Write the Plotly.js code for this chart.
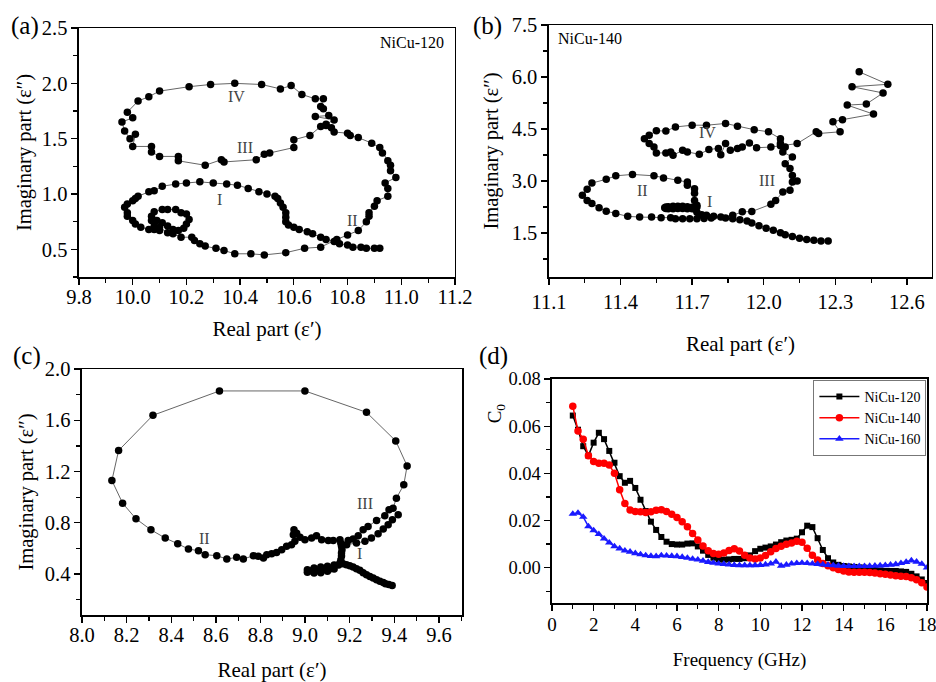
<!DOCTYPE html>
<html><head><meta charset="utf-8">
<script src="https://cdn.plot.ly/plotly-3.0.1.min.js"></script>
<style>html,body{margin:0;padding:0;background:#fff}#chart{width:936px;height:682px}</style>
</head><body><div id="chart"></div>
<script>
// ---------- Panel (a) NiCu-120 Cole-Cole ----------
const a_real = [10.92,10.90,10.87,10.85,10.82,10.80,10.77,10.75,10.72,10.70,10.67,10.65,10.62,10.60,10.58,10.57,10.57,10.57,10.56,10.55,10.54,10.53,
  10.50,10.47,10.43,10.39,10.35,10.30,10.25,10.20,10.16,10.11,10.08,10.06,10.02,10.01,10.00,9.98,9.97,9.98,9.98,10.00,10.01,10.03,10.06,10.08,10.10,
  10.08,10.07,10.07,10.08,10.11,10.13,10.16,10.18,10.20,10.21,10.20,10.19,10.17,10.15,10.13,10.11,10.09,10.10,10.13,10.15,10.18,10.22,10.23,10.25,10.27,10.31,10.34,10.38,10.44,10.49,10.57,10.64,10.70,10.76,10.80,10.84,
  10.87,10.88,10.88,10.90,10.91,10.95,10.95,10.94,10.98,10.96,10.96,10.95,10.93,10.92,10.89,10.84,10.81,10.80,10.75,10.74,10.72,10.70,
  10.66,10.60,10.60,10.51,10.49,10.46,10.34,10.33,10.27,10.17,10.17,10.10,10.07,10.07,10.00,10.01,9.99,9.97,9.96,10.00,9.98,
  10.02,10.06,10.10,10.21,10.29,10.38,10.48,10.55,10.59,10.63,10.68,10.71,10.70,10.71,10.73,10.68,10.75,10.72];
const a_imag = [0.51,0.51,0.51,0.52,0.52,0.54,0.55,0.57,0.59,0.61,0.64,0.66,0.68,0.70,0.72,0.75,0.79,0.83,0.88,0.92,0.96,0.98,
  1.00,1.02,1.05,1.08,1.09,1.10,1.11,1.10,1.09,1.07,1.03,1.02,0.98,0.96,0.94,0.91,0.88,0.83,0.80,0.76,0.73,0.70,0.68,0.68,0.67,
  0.71,0.76,0.80,0.84,0.86,0.86,0.86,0.83,0.82,0.77,0.73,0.69,0.67,0.68,0.71,0.74,0.76,0.70,0.65,0.64,0.61,0.61,0.58,0.55,0.53,0.51,0.49,0.46,0.46,0.45,0.47,0.51,0.52,0.59,0.63,0.67,
  0.75,0.80,0.83,0.89,0.94,0.98,1.05,1.10,1.15,1.21,1.26,1.30,1.37,1.42,1.46,1.51,1.53,1.55,1.56,1.60,1.62,1.61,
  1.53,1.49,1.42,1.37,1.36,1.31,1.29,1.31,1.26,1.30,1.34,1.34,1.38,1.43,1.43,1.54,1.50,1.57,1.65,1.69,1.74,
  1.84,1.88,1.93,1.97,1.99,2.00,1.99,1.95,1.98,1.90,1.86,1.86,1.79,1.77,1.71,1.70,1.67,1.63];

// ---------- Panel (b) NiCu-140 Cole-Cole ----------
const b_real = [12.27,12.24,12.21,12.18,12.15,12.12,12.09,12.07,12.04,12.01,11.98,11.95,11.93,11.90,11.87,11.84,11.82,11.79,11.76,11.74,
  11.72,11.71,11.70,11.68,11.66,11.64,11.62,11.60,11.59,11.585,11.59,11.60,11.62,11.64,11.66,11.68,11.70,11.72,11.72,
  11.71,11.71,11.71,11.68,11.68,11.64,11.58,11.54,11.45,11.38,11.34,11.28,11.26,11.24,11.26,11.28,11.31,11.34,11.38,11.43,11.48,11.53,11.57,11.61,11.63,11.66,11.69,11.72,11.75,11.78,
  11.87,11.91,11.95,12.03,12.05,12.08,12.11,12.12,12.14,12.12,12.11,12.09,12.12,12.08,12.09,12.07,12.07,
  12.02,11.96,11.89,11.84,11.76,11.70,11.63,11.59,11.55,11.52,11.50,11.52,11.54,11.55,11.59,11.61,11.62,11.66,11.68,11.73,11.77,11.81,11.82,11.84,11.86,11.89,11.91,11.94,11.97,12.03,12.07,12.14,
  12.22,12.23,12.32,12.29,12.33,12.46,12.35,12.43,12.50,12.37,12.52,12.40];
const b_imag = [1.27,1.27,1.29,1.31,1.35,1.40,1.45,1.51,1.58,1.64,1.71,1.79,1.85,1.88,1.91,1.93,1.96,1.98,2.01,2.03,
  2.10,2.20,2.24,2.26,2.27,2.27,2.27,2.26,2.25,2.23,2.21,2.20,2.20,2.21,2.21,2.20,2.20,2.25,2.30,
  2.44,2.65,2.78,2.88,2.97,3.02,3.09,3.15,3.19,3.15,3.05,2.94,2.76,2.59,2.44,2.35,2.23,2.13,2.06,1.98,1.96,1.96,1.94,1.94,1.91,1.91,1.91,1.91,1.92,1.93,
  2.01,2.11,2.12,2.33,2.44,2.68,2.73,2.97,3.00,3.16,3.36,3.50,3.69,3.84,3.98,4.08,4.22,
  4.42,4.48,4.58,4.66,4.61,4.61,4.56,4.44,4.45,4.32,4.22,4.08,3.98,3.81,3.81,3.84,3.74,3.89,3.84,3.77,3.91,3.94,3.76,4.08,3.89,3.94,3.98,4.10,3.96,3.98,4.02,4.08,
  4.42,4.37,4.42,4.71,4.77,4.93,5.19,5.22,5.54,5.72,5.79,6.15];

// ---------- Panel (c) NiCu-160 Cole-Cole ----------
const c_real = [9.39,9.375,9.36,9.35,9.335,9.32,9.305,9.29,9.275,9.26,9.245,9.23,9.215,9.20,9.185,9.17,9.156,
  9.13,9.10,9.07,9.04,9.01,9.01,9.04,9.07,9.10,9.13,9.11,9.08,9.05,9.02,9.15,
  9.16,9.163,9.163,9.165,9.163,9.16,9.156,
  9.126,9.104,9.074,9.051,9.029,8.999,8.977,8.962,8.950,8.947,8.954,8.939,
  8.917,8.895,8.872,8.850,8.828,8.813,8.790,8.768,8.723,8.693,8.649,8.604,8.552,8.522,8.477,8.429,8.373,8.309,8.242,8.182,8.134,8.164,8.318,8.616,8.999,9.275,9.406,9.457,9.442,9.409,
  9.394,9.376,9.357,9.320,9.282,9.260,9.238,9.215,9.193,
  9.186,9.230,9.268,9.297,9.327,9.350,9.372,9.391,9.417];
const c_imag = [0.31,0.318,0.325,0.333,0.343,0.356,0.369,0.381,0.394,0.41,0.429,0.442,0.455,0.465,0.473,0.48,0.486,
  0.47,0.46,0.455,0.447,0.434,0.413,0.408,0.41,0.421,0.439,0.44,0.435,0.43,0.425,0.47,
  0.51,0.54,0.564,0.59,0.616,0.64,0.668,
  0.662,0.662,0.668,0.699,0.681,0.668,0.688,0.719,0.745,0.706,0.655,0.629,
  0.616,0.590,0.569,0.558,0.551,0.525,0.538,0.543,0.517,0.530,0.517,0.543,0.551,0.582,0.595,0.636,0.681,0.745,0.831,0.953,1.130,1.364,1.639,1.829,1.829,1.662,1.439,1.244,1.096,0.992,
  0.914,0.901,0.855,0.818,0.771,0.745,0.699,0.673,0.662,
  0.629,0.642,0.655,0.681,0.714,0.751,0.784,0.823,0.862];

// ---------- Panel (d) C0 vs frequency ----------
const freq = [1.00,1.25,1.50,1.75,2.00,2.25,2.50,2.75,3.00,3.25,3.50,3.75,4.00,4.25,4.50,4.75,5.00,5.25,5.50,5.75,6.00,6.25,6.50,6.75,7.00,7.25,7.50,7.75,8.00,8.25,8.50,8.75,9.00,9.25,9.50,9.75,10.00,10.25,10.50,10.75,11.00,11.25,11.50,11.75,12.00,12.25,12.50,12.75,13.00,13.25,13.50,13.75,14.00,14.25,14.50,14.75,15.00,15.25,15.50,15.75,16.00,16.25,16.50,16.75,17.00,17.25,17.50,17.75,18.00];
const c0_120 = [0.0645,0.0585,0.0515,0.0475,0.0530,0.0572,0.0545,0.0495,0.0445,0.0388,0.0360,0.0368,0.0338,0.0288,0.0240,0.0195,0.0160,0.0130,0.0110,0.0100,0.0098,0.0098,0.0102,0.0103,0.0090,0.0072,0.0054,0.0042,0.0035,0.0034,0.0035,0.0037,0.0037,0.0040,0.0052,0.0070,0.0080,0.0085,0.0090,0.0098,0.0108,0.0115,0.0118,0.0123,0.0150,0.0178,0.0172,0.0125,0.0075,0.0040,0.0022,0.0012,0.0007,0.0005,0.0003,0.0001,0.0000,-0.0005,-0.0009,-0.0012,-0.0014,-0.0014,-0.0014,-0.0016,-0.0018,-0.0026,-0.0037,-0.0050,-0.0065];
const c0_140 = [0.0685,0.0580,0.0545,0.0475,0.0450,0.0443,0.0443,0.0435,0.0400,0.0330,0.0272,0.0245,0.0238,0.0237,0.0234,0.0237,0.0243,0.0246,0.0238,0.0226,0.0213,0.0195,0.0173,0.0145,0.0117,0.0092,0.0072,0.0060,0.0057,0.0062,0.0073,0.0080,0.0071,0.0053,0.0041,0.0037,0.0041,0.0052,0.0067,0.0081,0.0091,0.0099,0.0105,0.0112,0.0108,0.0082,0.0053,0.0032,0.0018,0.0008,0.0000,-0.0008,-0.0014,-0.0018,-0.0020,-0.0020,-0.0020,-0.0021,-0.0023,-0.0026,-0.0028,-0.0031,-0.0034,-0.0036,-0.0038,-0.0043,-0.0051,-0.0064,-0.0082];
const c0_160 = [0.0228,0.0232,0.0215,0.0175,0.0158,0.0142,0.0123,0.0106,0.0090,0.0081,0.0072,0.0067,0.0061,0.0056,0.0052,0.0049,0.0048,0.0052,0.0051,0.0049,0.0048,0.0045,0.0041,0.0037,0.0034,0.0029,0.0024,0.0020,0.0017,0.0015,0.0013,0.0011,0.0010,0.0010,0.0010,0.0010,0.0011,0.0013,0.0017,0.0025,0.0008,0.0012,0.0017,0.0019,0.0020,0.0019,0.0017,0.0015,0.0013,0.0011,0.0010,0.0008,0.0007,0.0006,0.0006,0.0006,0.0006,0.0007,0.0008,0.0009,0.0010,0.0012,0.0014,0.0019,0.0024,0.0030,0.0025,0.0016,0.0000];
const seriesNames = ['NiCu-120','NiCu-140','NiCu-160'];

const FONT = '"Liberation Serif", "Times New Roman", serif';

const ccMarker = {color:'#000', size:7.5};
const ccLine = {color:'#666', width:1};
const traces = [
  {x:a_real, y:a_imag, xaxis:'x', yaxis:'y', mode:'lines+markers', marker:ccMarker, line:ccLine, showlegend:false},
  {x:b_real, y:b_imag, xaxis:'x2', yaxis:'y2', mode:'lines+markers', marker:ccMarker, line:ccLine, showlegend:false},
  {x:c_real, y:c_imag, xaxis:'x3', yaxis:'y3', mode:'lines+markers', marker:ccMarker, line:ccLine, showlegend:false},
  {x:freq, y:c0_120, xaxis:'x4', yaxis:'y4', name:seriesNames[0], mode:'lines+markers', marker:{symbol:'square', size:6, color:'#000'}, line:{color:'#000', width:1.5}},
  {x:freq, y:c0_140, xaxis:'x4', yaxis:'y4', name:seriesNames[1], mode:'lines+markers', marker:{symbol:'circle', size:7.5, color:'#ff0000'}, line:{color:'#ff0000', width:1.5}},
  {x:freq, y:c0_160, xaxis:'x4', yaxis:'y4', name:seriesNames[2], mode:'lines+markers', marker:{symbol:'triangle-up', size:7.5, color:'#1a1aff'}, line:{color:'#1a1aff', width:1.5}}
];

const minorT = d => ({dtick:d, ticks:'outside', ticklen:4, tickwidth:1.2, tickcolor:'#000'});
function axis(o){
  return Object.assign({
    showgrid:false, zeroline:false, showline:true, linecolor:'#000', linewidth:1.5, mirror:true,
    ticks:'outside', ticklen:6, tickwidth:1.3, tickcolor:'#000',
    tickfont:{family:FONT, size:20.5, color:'#000'},
    ticklabeloverflow:'allow',
    automargin:false
  }, o);
}
const ttl = (t, size, standoff) => ({text:t, font:{family:FONT, size:size, color:'#000'}, standoff:standoff});
const note = (t, x, y, size, color, extra) => Object.assign({text:t, x:x, y:y, xref:'paper', yref:'paper', xanchor:'center', yanchor:'middle', showarrow:false, font:{family:FONT, size:size, color:color||'#000'}}, extra||{});

const layout = {
  width:936, height:682, margin:{l:0, r:0, t:0, b:0},
  paper_bgcolor:'#fff', plot_bgcolor:'#fff',
  font:{family:FONT, color:'#000'},
  xaxis: axis({domain:[0.0844,0.4861], range:[9.8,11.2001], dtick:0.2, tick0:9.8, minor:minorT(0.1), tickformat:'.1f', anchor:'y', ticklabelstandoff:-5, title:ttl('Real part (ε′)', 21, 14)}),
  yaxis: axis({domain:[0.5938,0.9589], range:[0.25,2.5001], dtick:0.5, tick0:0.5, minor:minorT(0.25), tickformat:'.1f', anchor:'x', title:ttl('Imaginary part (ε″)', 20.5, 4)}),
  xaxis2: axis({domain:[0.5865,0.9957], range:[11.1,12.705], dtick:0.3, tick0:11.1, minor:minorT(0.15), tickformat:'.1f', anchor:'y2', title:ttl('Real part (ε′)', 21, 24)}),
  yaxis2: axis({domain:[0.5938,0.9633], range:[0.23,7.5001], dtick:1.5, tick0:1.5, minor:minorT(0.75), tickformat:'.1f', anchor:'x2', title:ttl('Imaginary part (ε″)', 20.5, 7)}),
  xaxis3: axis({domain:[0.0876,0.4936], range:[8.0,9.703], dtick:0.2, tick0:8.0, minor:minorT(0.1), tickformat:'.1f', anchor:'y3', ticklabelstandoff:-5, title:ttl('Real part (ε′)', 21, 27)}),
  yaxis3: axis({domain:[0.0982,0.4589], range:[0.08,2.0001], dtick:0.4, tick0:0.4, minor:minorT(0.2), tickformat:'.1f', anchor:'x3', title:ttl('Imaginary part (ε″)', 20.5, 5)}),
  xaxis4: axis({domain:[0.5897,0.9904], range:[0,18.001], dtick:2, tick0:0, minor:minorT(1), anchor:'y4', ticklabelstandoff:-2, tickfont:{family:FONT, size:19, color:'#000'}, title:ttl('Frequency (GHz)', 19, 18)}),
  yaxis4: axis({domain:[0.1158,0.4443], range:[-0.015,0.08001], dtick:0.02, tick0:0, minor:minorT(0.01), tickformat:'.2f', anchor:'x4', tickfont:{family:FONT, size:18.5, color:'#000'}}),
  showlegend:true,
  legend:{x:0.869, y:0.443, xanchor:'left', yanchor:'top', bgcolor:'#fff', bordercolor:'#777', borderwidth:1,
          font:{family:FONT, size:14, color:'#000'}, itemwidth:40, tracegroupgap:0},
  annotations:[
    note('(a)', 0.027, 0.962, 25),
    note('(b)', 0.521, 0.962, 25),
    note('(c)', 0.029, 0.478, 25),
    note('(d)', 0.527, 0.478, 25),
    note('C<sub>0</sub>', 0.530, 0.394, 19, '#000', {textangle:-90}),
    note('NiCu-120', 0.440, 0.937, 16),
    note('NiCu-140', 0.630, 0.944, 16),
    note('IV', 0.2532, 0.858, 16, '#444'),
    note('III', 0.2618, 0.784, 16, '#444'),
    note('I', 0.2350, 0.707, 16, '#444'),
    note('II', 0.3771, 0.677, 16, '#444'),
    note('IV', 0.7564, 0.806, 16, '#444'),
    note('III', 0.8194, 0.736, 16, '#444'),
    note('II', 0.6859, 0.721, 16, '#444'),
    note('I', 0.7575, 0.704, 16, '#444'),
    note('III', 0.3900, 0.262, 16, '#444'),
    note('II', 0.2190, 0.211, 16, '#444'),
    note('I', 0.3846, 0.188, 16, '#444')
  ]
};

Plotly.newPlot('chart', traces, layout, {displayModeBar:false, staticPlot:true});
</script></body></html>
